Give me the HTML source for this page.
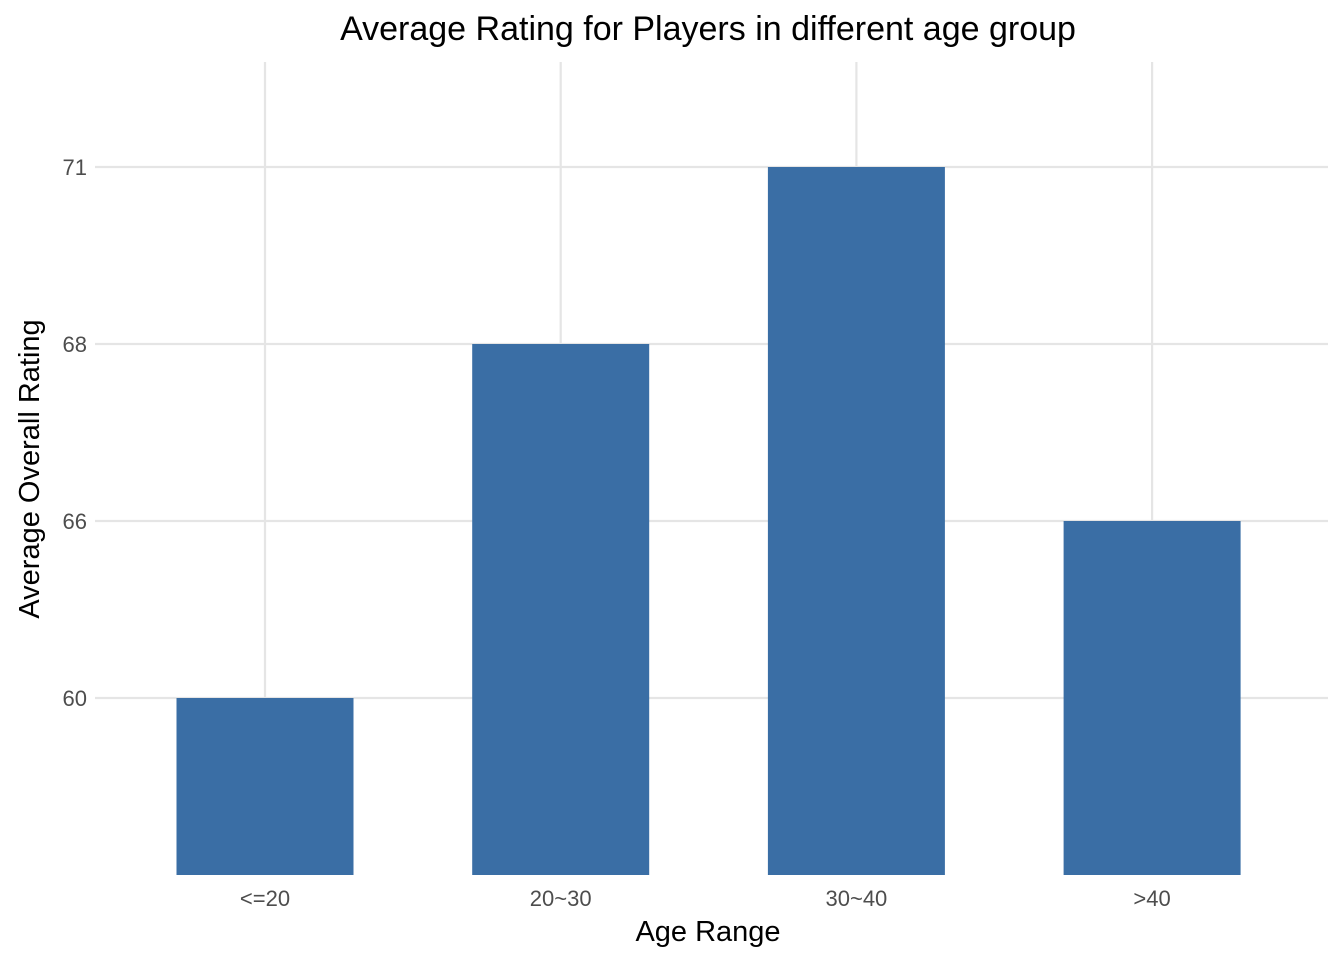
<!DOCTYPE html>
<html><head><meta charset="utf-8"><style>
body{margin:0;background:#fff;font-family:"Liberation Sans",sans-serif;}
</style></head><body>
<svg id="chart" width="1344" height="960" xmlns="http://www.w3.org/2000/svg">
<rect width="1344" height="960" fill="#fff"/>
<text x="708" y="40" font-size="34" text-anchor="middle" fill="#000">Average Rating for Players in different age group</text>
<text x="708" y="941" font-size="29" text-anchor="middle" fill="#000">Age Range</text>
<text transform="translate(39,469) rotate(-90)" font-size="29" text-anchor="middle" fill="#000">Average Overall Rating</text>
<g id="grid"></g><g id="bars"></g><g id="ticks"></g>
</svg>
<script>
const categories = ["<=20","20~30","30~40",">40"];
const values = [60,68,71,66];
const ns="http://www.w3.org/2000/svg";
const levels=[...new Set(values)].sort((a,b)=>a-b);
const plotLeft=95,plotRight=1328,plotTop=62,plotBottom=875;
const xStep=295.7, x0=265;
function xScale(i){return x0+i*xStep;}
function yScale(v){return plotBottom-(levels.indexOf(v)+1)*177;}
const grid=document.getElementById('grid'),bars=document.getElementById('bars'),ticks=document.getElementById('ticks');
function mk(tag,attrs,parent){const e=document.createElementNS(ns,tag);for(const k in attrs)e.setAttribute(k,attrs[k]);parent.appendChild(e);return e;}
levels.forEach(v=>{
  const y=yScale(v);
  const l=mk('line',{x1:plotLeft,x2:plotRight,y1:y,y2:y,stroke:'#e5e5e5','stroke-width':2.2},grid);
  
  
  const t=mk('text',{x:87,y:y+8,'font-size':22,'text-anchor':'end',fill:'#4d4d4d'},ticks);
  t.textContent=v;
  
  
});
categories.forEach((c,i)=>{
  const x=xScale(i);
  const l=mk('line',{x1:x,x2:x,y1:plotTop,y2:plotBottom,stroke:'#e5e5e5','stroke-width':2.2},grid);
  
  
  const y=yScale(values[i]);
  const r=mk('rect',{x:x-88.5,y:y,width:177,height:plotBottom-y,fill:'#3a6ea5'},bars);
  
  
  const t=mk('text',{x:x,y:906,'font-size':22,'text-anchor':'middle',fill:'#4d4d4d'},ticks);
  t.textContent=c;
  
  
});
</script>
</body></html>
